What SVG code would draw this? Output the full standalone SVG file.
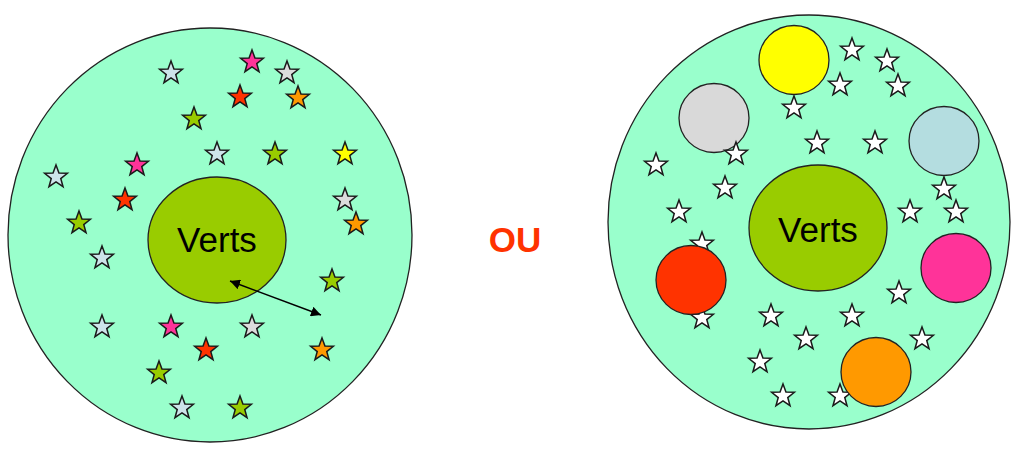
<svg xmlns="http://www.w3.org/2000/svg" xmlns:xlink="http://www.w3.org/1999/xlink" width="1016" height="450" viewBox="0 0 1016 450">
<style>
.big{fill:#99ffcc;stroke:#222;stroke-width:1.3}
.core{fill:#99cc00;stroke:#222;stroke-width:1.3}
.disc{stroke:#222;stroke-width:1.3}
.lbl{font-family:"Liberation Sans",Arial,sans-serif;font-size:35px;fill:#000;text-anchor:middle}
.ou{font-family:"Liberation Sans",Arial,sans-serif;font-size:35px;font-weight:bold;fill:#ff3300;text-anchor:middle}
.st{stroke:#1a1a1a;stroke-width:1.5;stroke-linejoin:miter}
.lb{fill:#cde4ea}.pk{fill:#ff3399}.gy{fill:#dcdcdc}.rd{fill:#ff3300}.or{fill:#ff9900}.gr{fill:#99cc00}.yl{fill:#ffff00}.wh{fill:#ffffff}
</style>
<defs>
<path id="star" d="M0,-12 L2.94,-4.05 L11.41,-3.71 L4.76,1.55 L7.05,9.71 L0,5 L-7.05,9.71 L-4.76,1.55 L-11.41,-3.71 L-2.94,-4.05 Z"/>
<marker id="ah" viewBox="0 0 10 10" refX="10" refY="5" markerWidth="10" markerHeight="10" markerUnits="userSpaceOnUse" orient="auto-start-reverse">
<path d="M0,0 L10,5 L0,10 Z" fill="#000"/>
</marker>
</defs>
<rect width="1016" height="450" fill="#fff"/>

<g id="left-set">
<ellipse class="big" cx="210" cy="235" rx="202" ry="207"/>
<g id="left-stars" class="st">
<use href="#star" x="171" y="73" class="lb"/>
<use href="#star" x="252" y="62" class="pk"/>
<use href="#star" x="287" y="73" class="gy"/>
<use href="#star" x="240" y="97" class="rd"/>
<use href="#star" x="298" y="98" class="or"/>
<use href="#star" x="194" y="119" class="gr"/>
<use href="#star" x="217" y="154" class="lb"/>
<use href="#star" x="275" y="154" class="gr"/>
<use href="#star" x="345" y="154" class="yl"/>
<use href="#star" x="137" y="165" class="pk"/>
<use href="#star" x="56" y="177" class="lb"/>
<use href="#star" x="125" y="200" class="rd"/>
<use href="#star" x="345" y="200" class="gy"/>
<use href="#star" x="356" y="224" class="or"/>
<use href="#star" x="79" y="223" class="gr"/>
<use href="#star" x="102" y="258" class="lb"/>
<use href="#star" x="332" y="281" class="gr"/>
<use href="#star" x="102" y="327" class="lb"/>
<use href="#star" x="171" y="327" class="pk"/>
<use href="#star" x="252" y="327" class="gy"/>
<use href="#star" x="206" y="350" class="rd"/>
<use href="#star" x="322" y="350" class="or"/>
<use href="#star" x="159" y="373" class="gr"/>
<use href="#star" x="182" y="408" class="lb"/>
<use href="#star" x="240" y="408" class="gr"/>
</g>
</g>

<g id="left-core">
<ellipse class="core" cx="217" cy="240" rx="69" ry="63"/>
<text class="lbl" x="217" y="252">Verts</text>
</g>

<g id="connectors">
<line x1="230" y1="281" x2="321" y2="315" stroke="#000" stroke-width="1.4" marker-start="url(#ah)" marker-end="url(#ah)"/>
</g>

<g id="or-label">
<text class="ou" x="515" y="252">OU</text>
</g>

<g id="right-set">
<ellipse class="big" cx="809" cy="222" rx="201" ry="207"/>
<ellipse class="disc" cx="794" cy="60" rx="35" ry="34.5" fill="#ffff00"/>
<ellipse class="disc" cx="714" cy="118" rx="35" ry="34.5" fill="#d9d9d9"/>
<ellipse class="disc" cx="944" cy="141" rx="35" ry="34.5" fill="#b4dde0"/>
<g id="right-stars" class="st">
<use href="#star" x="852" y="50" class="wh"/>
<use href="#star" x="887" y="61" class="wh"/>
<use href="#star" x="840" y="85" class="wh"/>
<use href="#star" x="898" y="86" class="wh"/>
<use href="#star" x="794" y="108" class="wh"/>
<use href="#star" x="817" y="143" class="wh"/>
<use href="#star" x="875" y="143" class="wh"/>
<use href="#star" x="736" y="154" class="wh"/>
<use href="#star" x="656" y="165" class="wh"/>
<use href="#star" x="725" y="188" class="wh"/>
<use href="#star" x="944" y="189" class="wh"/>
<use href="#star" x="679" y="212" class="wh"/>
<use href="#star" x="910" y="212" class="wh"/>
<use href="#star" x="956" y="212" class="wh"/>
<use href="#star" x="702" y="244" class="wh"/>
<use href="#star" x="702" y="318" class="wh"/>
<use href="#star" x="899" y="293" class="wh"/>
<use href="#star" x="771" y="316" class="wh"/>
<use href="#star" x="852" y="316" class="wh"/>
<use href="#star" x="806" y="339" class="wh"/>
<use href="#star" x="922" y="339" class="wh"/>
<use href="#star" x="760" y="362" class="wh"/>
<use href="#star" x="783" y="396" class="wh"/>
<use href="#star" x="840" y="396" class="wh"/>
</g>
<ellipse class="disc" cx="691" cy="280" rx="35" ry="34.5" fill="#ff3300"/>
<ellipse class="disc" cx="956" cy="268" rx="35" ry="34.5" fill="#ff3399"/>
<ellipse class="disc" cx="876" cy="372" rx="35" ry="34.5" fill="#ff9900"/>
</g>

<g id="right-core">
<ellipse class="core" cx="818" cy="228" rx="69" ry="63"/>
<text class="lbl" x="818" y="242">Verts</text>
</g>
</svg>
